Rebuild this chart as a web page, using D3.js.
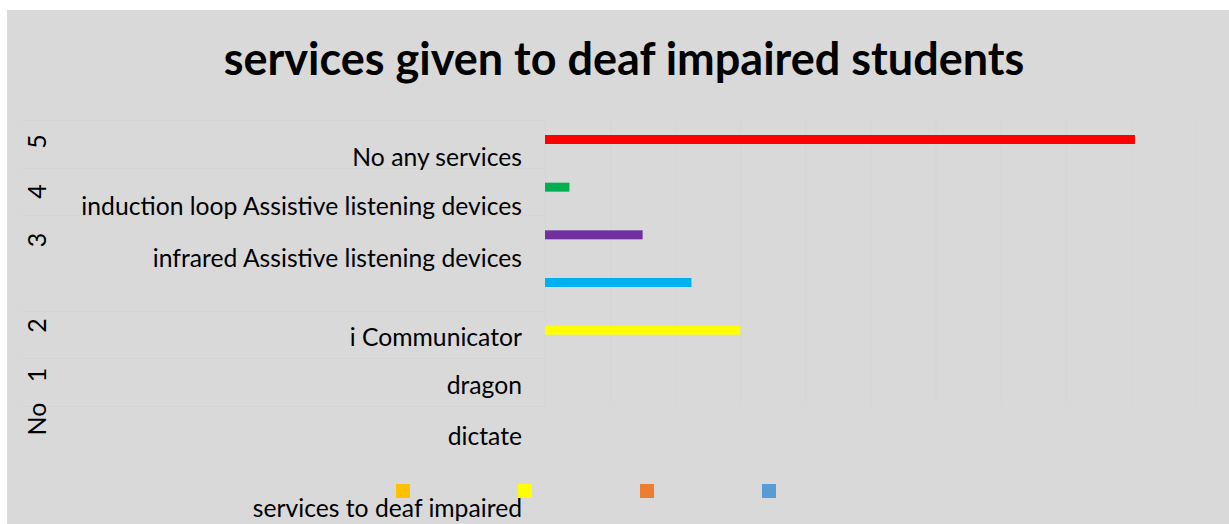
<!DOCTYPE html>
<html>
<head>
<meta charset="utf-8">
<script src="https://cdn.jsdelivr.net/npm/d3@7"></script>
<style>
  body { margin: 0; background: #fff; }
  text { font-family: Lato, "Open Sans", sans-serif; fill: #000; }
</style>
</head>
<body>
<div class="chart"></div>
<script>
// data
const title = 'services given to deaf impaired students';
const outerLabels = ['5', '4', '3', '2', '1', 'No'];
const innerLabels = ['No any services', 'induction loop Assistive listening devices',
    'infrared Assistive listening devices', '', 'i Communicator', 'dragon', 'dictate'];
const barValues = [36.25, 1.5, 6, 9, 12, 0];
const barColors = ['#ff0000', '#00b050', '#7030a0', '#00b0f0', '#ffff00', '#ffc000'];
const legendColors = ['#ffc000', '#ffff00', '#ed7d31', '#5b9bd5'];
const legendTitle = 'services to deaf impaired';

const W = 1229, H = 524;

const svg = d3.select('.chart')
    .append('svg')
    .attr('width', W)
    .attr('height', H);

// chart area background
svg.append('rect').attr('x', 7).attr('y', 10).attr('width', W - 7).attr('height', H - 10)
    .attr('fill', '#d9d9d9');

// title
svg.append('text')
    .attr('x', 624).attr('y', 75)
    .attr('text-anchor', 'middle')
    .style('font-weight', 700)
    .style('font-size', '45px')
    .text(title);

// scales
const plot = { left: 545, right: 1196, top: 120, bottom: 406 };

const xScale = d3.scaleLinear()
    .domain([0, 40])
    .range([plot.left, plot.right]);

const yScale = d3.scaleBand()
    .domain(d3.range(barValues.length))
    .range([plot.top, plot.bottom]);

// vertical gridlines
const xAxis = d3.axisBottom(xScale)
    .tickValues(d3.range(0, 41, 4))
    .tickSize(-(plot.bottom - 1 - plot.top))
    .tickFormat('');

svg.append('g')
    .attr('class', 'x-grid')
    .attr('transform', `translate(0, ${plot.bottom - 1})`)
    .call(xAxis)
    .call(g => g.select('.domain').remove())
    .call(g => g.selectAll('line').attr('stroke', '#d5d5d5'));

// group separators in the category area (group "3" spans two rows)
const sepRows = [0, 1, 2, 4, 5, 6];
svg.append('g')
    .selectAll('line')
    .data(sepRows)
    .enter()
    .append('line')
    .attr('x1', 21).attr('x2', plot.left)
    .attr('y1', d => Math.round(plot.top + d * yScale.step()) + 0.5)
    .attr('y2', d => Math.round(plot.top + d * yScale.step()) + 0.5)
    .attr('stroke', '#d5d5d5');

// bars
svg.append('g')
    .attr('class', 'bars')
    .selectAll('rect')
    .data(barValues)
    .enter()
    .append('rect')
    .attr('x', xScale(0))
    .attr('y', (d, i) => yScale(i) + 15)
    .attr('height', 9)
    .attr('width', d => xScale(d) - xScale(0))
    .attr('fill', (d, i) => barColors[i]);

// category labels (multi-level axis)
const innerY = d3.scaleLinear().domain([0, 1, 2, 4, 5, 6]).range([166, 215, 267, 346, 394, 445]);
svg.append('g')
    .selectAll('text')
    .data(innerLabels)
    .enter()
    .append('text')
    .attr('x', 522)
    .attr('y', (d, i) => innerY(i))
    .attr('text-anchor', 'end')
    .style('font-size', '24.7px')
    .text(d => d);

const outerY = d3.scaleLinear().domain([0, 1, 2, 3, 4, 5]).range([141.5, 191.5, 240, 325.5, 375, 419]);
svg.append('g')
    .selectAll('text')
    .data(outerLabels)
    .enter()
    .append('text')
    .attr('transform', (d, i) => `translate(46, ${outerY(i)}) rotate(-90)`)
    .attr('text-anchor', 'middle')
    .style('font-size', '25px')
    .text(d => d);

// legend
const legendX = d3.scalePoint().domain(d3.range(legendColors.length)).range([396, 762]);
svg.append('g')
    .selectAll('rect')
    .data(legendColors)
    .enter()
    .append('rect')
    .attr('x', (d, i) => legendX(i))
    .attr('y', 484)
    .attr('width', 14)
    .attr('height', 14)
    .attr('fill', d => d);

svg.append('text')
    .attr('x', 522).attr('y', 517)
    .attr('text-anchor', 'end')
    .style('font-size', '24.7px')
    .text(legendTitle);
</script>
</body>
</html>
